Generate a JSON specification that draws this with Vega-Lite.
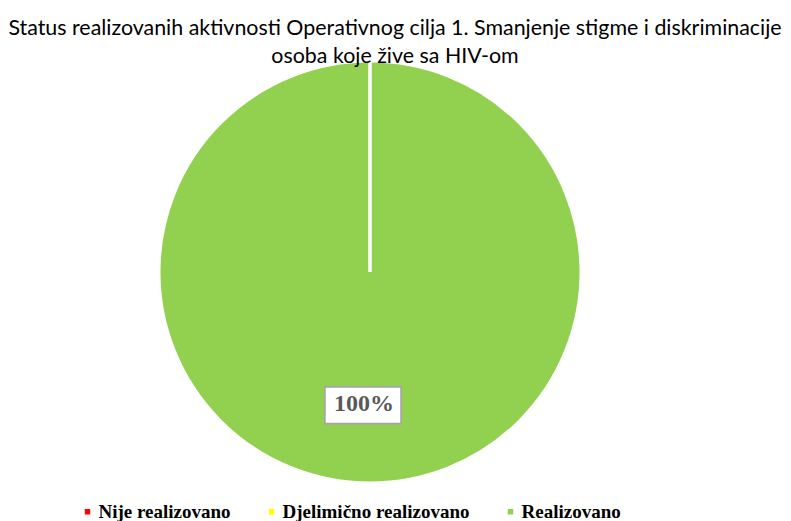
{
  "$schema": "https://vega.github.io/schema/vega-lite/v6.json",
  "width": 420,
  "height": 420,
  "autosize": {"type": "none"},
  "padding": {"top": 62, "left": 160, "right": 211, "bottom": 39},
  "background": "white",
  "title": {
    "text": ["Status realizovanih aktivnosti Operativnog cilja 1. Smanjenje stigme i diskriminacije", "osoba koje žive sa HIV-om"],
    "font": "Lato",
    "fontSize": 21.4,
    "fontWeight": "normal",
    "color": "black",
    "lineHeight": 28,
    "anchor": "middle",
    "frame": "group",
    "dx": 25,
    "offset": -12
  },
  "data": {
    "values": [
      {"status": "Nije realizovano", "value": 0, "label": "0%"},
      {"status": "Djelimično realizovano", "value": 0, "label": "0%"},
      {"status": "Realizovano", "value": 100, "label": "100%"}
    ]
  },
  "layer": [
    {
      "mark": {"type": "arc", "outerRadius": 211, "stroke": "white", "strokeWidth": 0},
      "encoding": {
        "theta": {"field": "value", "type": "quantitative", "stack": true},
        "color": {
          "field": "status",
          "type": "nominal",
          "scale": {
            "domain": ["Nije realizovano", "Djelimično realizovano", "Realizovano"],
            "range": ["#FF0000", "#FFFF00", "#92D050"]
          },
          "legend": {
            "title": null,
            "orient": "none",
            "direction": "horizontal",
            "legendX": -82,
            "legendY": 440,
            "symbolType": "square",
            "symbolSize": 30,
            "symbolStrokeWidth": 0,
            "labelFont": "Liberation Serif",
            "labelFontWeight": "bold",
            "labelFontSize": 19,
            "labelColor": "black",
            "labelOffset": 1.5,
            "labelLimit": 400,
            "columnPadding": 31,
            "padding": 0
          }
        }
      }
    },
    {
      "mark": {"type": "arc", "outerRadius": 211, "stroke": "white", "strokeWidth": 3, "fillOpacity": 0},
      "encoding": {
        "theta": {"field": "value", "type": "quantitative", "stack": true},
        "detail": {"field": "status"}
      }
    },
    {
      "transform": [{"filter": "datum.value > 0"}],
      "mark": {"type": "text", "text": "▬", "font": "DejaVu Sans", "fontSize": 100, "fill": "white", "stroke": "#a6a6a6", "strokeWidth": 1.8, "radius": 134, "baseline": "middle", "align": "center", "dx": -7, "dy": -5},
      "encoding": {
        "theta": {"field": "value", "type": "quantitative", "stack": true}
      }
    },
    {
      "transform": [{"filter": "datum.value > 0"}],
      "mark": {"type": "text", "font": "Liberation Serif", "fontWeight": "bold", "fontSize": 24, "color": "#595959", "radius": 134, "baseline": "middle", "align": "center", "dx": -6, "dy": -2},
      "encoding": {
        "theta": {"field": "value", "type": "quantitative", "stack": true},
        "text": {"field": "label"}
      }
    }
  ]
}
